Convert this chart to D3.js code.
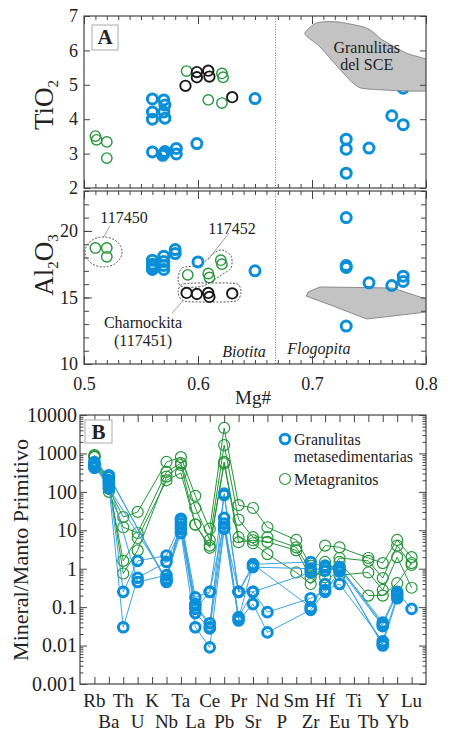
<!DOCTYPE html>
<html>
<head>
<meta charset="utf-8">
<script src="https://cdn.jsdelivr.net/npm/d3@7"></script>
<style>
  body { margin: 0; background: #fff; }
  text { font-family: "Liberation Serif", "Times New Roman", Times, serif; fill: #222; }
</style>
</head>
<body>
<div id="chart"></div>
<script>
// ---- panel A: Mg# vs TiO2 / Al2O3 ----
const tiGranulitas = [[0.56,4.59],[0.56,4.21],[0.56,4.0],[0.57,4.56],[0.571,4.41],[0.57,4.21],[0.571,4.03],
  [0.56,3.05],[0.57,3.0],[0.569,2.95],[0.571,3.06],[0.581,3.15],[0.581,2.99],[0.599,3.29],[0.65,4.6],
  [0.73,3.42],[0.73,3.13],[0.73,2.43],[0.75,3.16],[0.77,4.1],[0.78,3.84],[0.78,4.9]];
const tiMetagranitos = [[0.51,3.51],[0.511,3.4],[0.52,3.34],[0.52,2.87],[0.59,5.40],[0.609,4.56],
  [0.621,4.47],[0.621,5.33],[0.622,5.22]];
const tiCharnockita = [[0.589,4.97],[0.599,5.22],[0.599,5.37],[0.609,5.41],[0.61,5.24],[0.63,4.64]];

const alGranulitas = [[0.56,17.8],[0.56,17.5],[0.56,17.3],[0.56,17.1],[0.57,18.1],[0.57,17.7],[0.57,17.4],
  [0.57,17.1],[0.58,18.6],[0.58,18.3],[0.60,17.67],[0.65,17.0],[0.73,21.0],[0.73,17.4],[0.73,17.25],
  [0.75,16.1],[0.77,15.9],[0.78,16.6],[0.78,16.2],[0.73,12.85]];
const alMetagranitos = [[0.51,18.72],[0.52,18.72],[0.52,18.05],[0.591,16.7],[0.609,16.8],[0.61,16.5],
  [0.62,17.8],[0.621,17.5]];
const alCharnockita = [[0.59,15.34],[0.599,15.26],[0.609,15.34],[0.61,15.04],[0.63,15.3]];

// fields (Mg#, value)
const sceField = [[0.694,6.53],[0.704,6.80],[0.722,6.83],[0.748,6.65],[0.762,6.30],[0.783,5.92],[0.81,5.6],
  [0.81,4.85],[0.748,4.88],[0.736,5.05],[0.725,5.43],[0.707,6.10],[0.696,6.39]];
const flogField = [[0.6965,15.41],[0.707,15.79],[0.771,15.71],[0.81,14.6],[0.81,14.0],[0.748,13.38],
  [0.716,14.44],[0.695,15.1]];
const encl117452 = [[0.5825,16.32],[0.586,17.22],[0.6018,17.44],[0.6132,18.27],[0.621,18.57],[0.629,18.12],
  [0.629,17.22],[0.6193,16.62],[0.6044,15.86],[0.5868,15.79]];
const enclCharn = [[0.5825,15.41],[0.5877,16.02],[0.615,16.09],[0.6342,16.02],[0.6377,15.41],[0.6333,14.74],
  [0.6105,14.66],[0.5877,14.74]];
const biotitaLimit = 0.668;

// ---- panel B: spider diagram ----
const elements = ["Rb","Ba","Th","U","K","Nb","Ta","La","Ce","Pb","Pr","Sr","Nd","P","Sm","Zr","Hf","Eu","Ti","Tb","Y","Yb","Lu"];
const granulitas = [
  [550,250,null,null,null,0.5,20,0.18,0.25,83,0.25,1.3,null,null,null,1.5,1.1,1.1,null,null,0.04,0.25,0.09],
  [450,200,0.25,1.6,null,2.2,15,0.11,0.038,21,0.055,0.25,0.074,null,null,0.17,0.28,0.4,null,null,0.013,0.2,null],
  [500,150,0.03,0.58,null,1.5,11,0.07,0.028,11.5,0.045,0.12,0.022,null,null,0.085,0.25,0.85,null,null,0.011,0.17,null],
  [420,180,null,0.45,null,0.68,8.5,0.03,0.009,11,0.25,1.1,null,null,null,1.0,0.9,1.0,null,null,0.032,null,null],
  [600,270,null,null,null,0.45,18,0.12,0.03,90,0.25,0.25,null,null,null,0.8,1.2,0.9,null,null,0.01,null,null],
  [480,125,null,null,null,0.55,12,0.09,0.25,15,0.05,1.3,null,null,null,0.1,0.4,1.1,null,null,0.035,0.22,null]
];
const metagranitos = [
  [850,120,22,30,null,600,800,79,11,4600,45,38,12,null,5.6,1.2,4,3.6,null,1.9,1.4,5.6,2],
  [800,100,12,8.5,null,330,560,38,5.6,1650,19,6.6,6.6,null,3.6,0.9,0.6,1.9,null,1.6,0.57,4,1.25],
  [900,150,1.6,6.3,null,200,310,14,4,600,6.6,4.6,2.4,null,0.8,0.4,1.5,0.68,null,0.8,0.28,2,0.32],
  [820,200,0.75,3,null,250,500,14,3.5,550,4.9,5.5,5,null,3,0.6,0.9,1.5,null,0.2,0.2,0.42,1.4]
];

const BLUE = "#0a8fd8", BLUE_L = "#3aa3e0", GREEN = "#25963a", BLACK = "#1a1a1a", AX = "#444";
const FONT = "Liberation Serif, Times New Roman, serif";

const svg = d3.select("#chart").append("svg").attr("width", 451).attr("height", 733);
const defs = svg.append("defs");

const mgX = d3.scaleLinear().domain([0.5, 0.8]).range([84, 426]);
const tiY = d3.scaleLinear().domain([2, 7]).range([188, 16]);
const alY = d3.scaleLinear().domain([10, 23]).range([364, 191]);

const mgMinor = d3.range(0, 31).map(i => 0.5 + i / 100);
const mgMajor = [0.5, 0.6, 0.7, 0.8];

function ax(gen, tr, values, len, fmt, pad) {
  const a = svg.append("g").attr("transform", tr)
    .call(gen.tickValues(values).tickSize(-len).tickFormat(fmt || (() => "")).tickPadding(pad || 0));
  a.select(".domain").remove();
  a.selectAll("line").attr("stroke", AX);
  a.attr("font-family", FONT).attr("font-size", 18);
  a.selectAll("text").style("fill", "#222");
  return a;
}
function border(x, y) {
  svg.append("rect").attr("x", x.range()[0]).attr("y", y.range()[1])
    .attr("width", x.range()[1] - x.range()[0]).attr("height", y.range()[0] - y.range()[1])
    .attr("fill", "none").attr("stroke", AX).attr("stroke-width", 1.2);
}
function clip(id, x, y) {
  defs.append("clipPath").attr("id", id).append("rect")
    .attr("x", x.range()[0]).attr("y", y.range()[1])
    .attr("width", x.range()[1] - x.range()[0]).attr("height", y.range()[0] - y.range()[1]);
}

function mgPanel(y, showLabels, id) {
  clip(id, mgX, y);
  const g = svg.append("g").attr("clip-path", `url(#${id})`);
  ax(d3.axisTop(mgX), `translate(0,${y.range()[1]})`, mgMinor, 4);
  ax(d3.axisTop(mgX), `translate(0,${y.range()[1]})`, mgMajor, 8);
  ax(d3.axisBottom(mgX), `translate(0,${y.range()[0]})`, mgMinor, 4);
  ax(d3.axisBottom(mgX), `translate(0,${y.range()[0]})`, mgMajor, 8, showLabels ? d3.format(".1f") : null, 13);
  g.append("line").attr("x1", mgX(biotitaLimit)).attr("x2", mgX(biotitaLimit))
    .attr("y1", y.range()[1]).attr("y2", y.range()[0])
    .attr("stroke", "#777").attr("stroke-dasharray", "1,1.6");
  return g;
}
function pts(g, data, y, color, r, sw) {
  g.append("g").selectAll("circle").data(data).join("circle")
    .attr("cx", d => mgX(d[0])).attr("cy", d => y(d[1])).attr("r", r)
    .attr("fill", "none").attr("stroke", color).attr("stroke-width", sw);
}

// --- TiO2 panel
const gA = mgPanel(tiY, false, "clipA");
ax(d3.axisLeft(tiY), "translate(84,0)", d3.range(2, 8), 6, d3.format("d"), 6);
ax(d3.axisRight(tiY), "translate(426,0)", d3.range(2, 8), 6);
pts(gA, tiGranulitas, tiY, BLUE, 5, 3);
gA.append("path").datum(sceField)
  .attr("d", d3.line().x(d => mgX(d[0])).y(d => tiY(d[1])).curve(d3.curveCardinalClosed.tension(0.3)))
  .attr("fill", "#c3c3c3").attr("stroke", "#777").attr("stroke-width", 0.8);
pts(gA, tiMetagranitos, tiY, GREEN, 5.2, 1.4);
pts(gA, tiCharnockita, tiY, BLACK, 5.2, 1.9);
gA.append("text").attr("x", mgX(0.748)).attr("y", tiY(6.1)).attr("dy", "0.35em")
  .attr("text-anchor", "middle").attr("font-size", 16).text("Granulitas");
gA.append("text").attr("x", mgX(0.748)).attr("y", tiY(5.58)).attr("dy", "0.35em")
  .attr("text-anchor", "middle").attr("font-size", 16).text("del SCE");
border(mgX, tiY);
svg.append("rect").attr("x", 92).attr("y", 25).attr("width", 26).attr("height", 25)
  .attr("fill", "#fff").attr("stroke", "#aaa");
svg.append("text").attr("x", 105).attr("y", 44).attr("text-anchor", "middle")
  .attr("font-size", 21).attr("font-weight", "bold").text("A");
svg.append("text").attr("transform", "translate(53,105) rotate(-90)").attr("text-anchor", "middle")
  .attr("font-size", 27).html('TiO<tspan font-size="15" dy="5">2</tspan>');

// --- Al2O3 panel
const gM = mgPanel(alY, true, "clipM");
ax(d3.axisLeft(alY), "translate(84,0)", d3.range(10, 24), 5);
ax(d3.axisLeft(alY), "translate(84,0)", [10, 15, 20], 8, d3.format("d"), 6);
ax(d3.axisRight(alY), "translate(426,0)", d3.range(10, 24), 5);
gM.append("path").datum(flogField)
  .attr("d", d3.line().x(d => mgX(d[0])).y(d => alY(d[1])).curve(d3.curveLinearClosed))
  .attr("fill", "#c3c3c3").attr("stroke", "#777").attr("stroke-width", 0.8);
const enc = d3.line().x(d => mgX(d[0])).y(d => alY(d[1])).curve(d3.curveCardinalClosed.tension(0.2));
[encl117452, enclCharn].forEach(e => gM.append("path").datum(e).attr("d", enc)
  .attr("fill", "none").attr("stroke", "#444").attr("stroke-width", 0.9).attr("stroke-dasharray", "2,1.5"));
gM.append("ellipse").attr("cx", mgX(0.5171)).attr("cy", alY(18.42)).attr("rx", 18.5).attr("ry", 15)
  .attr("fill", "none").attr("stroke", "#444").attr("stroke-width", 0.9).attr("stroke-dasharray", "2,1.5");
const leaders = [[[0.5228,20.38],[0.5167,19.47]], [[0.6272,19.85],[0.6088,17.82]], [[0.5772,13.83],[0.5868,14.74]]];
leaders.forEach(l => gM.append("line").attr("x1", mgX(l[0][0])).attr("y1", alY(l[0][1]))
  .attr("x2", mgX(l[1][0])).attr("y2", alY(l[1][1])).attr("stroke", "#999").attr("stroke-width", 0.9));
pts(gM, alGranulitas, alY, BLUE, 5, 3);
pts(gM, alMetagranitos, alY, GREEN, 5.2, 1.4);
pts(gM, alCharnockita, alY, BLACK, 5.2, 1.9);
const notes = [["117450",0.5351,21.05,false],["117452",0.6298,20.2,false],["Charnockita",0.5518,13.16,false],
  ["(117451)",0.5518,11.8,false],["Biotita",0.6404,10.98,true],["Flogopita",0.706,11.2,true]];
notes.forEach(n => gM.append("text").attr("x", mgX(n[1])).attr("y", alY(n[2])).attr("dy", "0.35em")
  .attr("text-anchor", "middle").attr("font-size", 16).attr("font-style", n[3] ? "italic" : null).text(n[0]));
border(mgX, alY);
svg.append("text").attr("transform", "translate(53,265) rotate(-90)").attr("text-anchor", "middle")
  .attr("font-size", 27).html('Al<tspan font-size="15" dy="5">2</tspan><tspan dy="-5">O</tspan><tspan font-size="15" dy="5">3</tspan>');
svg.append("text").attr("x", 253).attr("y", 404).attr("text-anchor", "middle").attr("font-size", 19).text("Mg#");

// --- panel B
const elX = d3.scalePoint().domain(elements).range([80, 426]).padding(1);
const yB = d3.scaleLog().domain([0.001, 10000]).range([684, 415]);
const decades = d3.range(-3, 5).map(e => Math.pow(10, e));
const minorB = [];
d3.range(-3, 4).forEach(e => d3.range(2, 10).forEach(k => minorB.push(k * Math.pow(10, e))));
const fmtB = d => d < 1 ? String(+d.toPrecision(1)) : String(Math.round(d));
ax(d3.axisLeft(yB), "translate(80,0)", minorB, 3.5);
ax(d3.axisLeft(yB), "translate(80,0)", decades, 7, fmtB, 3).attr("font-size", 20);
ax(d3.axisRight(yB), "translate(426,0)", minorB, 3.5);
ax(d3.axisRight(yB), "translate(426,0)", decades, 7);
ax(d3.axisBottom(elX), "translate(0,684)", elements, 7);
ax(d3.axisTop(elX), "translate(0,415)", elements, 7);

const toPts = r => r.map((v, i) => ({ el: elements[i], v })).filter(d => d.v != null);
const lineB = d3.line().x(d => elX(d.el)).y(d => yB(d.v));
function spider(series, lineColor, color, r, sw) {
  const g = svg.append("g");
  series.forEach(s => g.append("path").datum(toPts(s)).attr("d", lineB)
    .attr("fill", "none").attr("stroke", lineColor).attr("stroke-width", 1));
  series.forEach(s => g.append("g").selectAll("circle").data(toPts(s)).join("circle")
    .attr("cx", d => elX(d.el)).attr("cy", d => yB(d.v)).attr("r", r)
    .attr("fill", "none").attr("stroke", color).attr("stroke-width", sw));
}
spider(metagranitos, GREEN, GREEN, 5.5, 1.2);
spider(granulitas, BLUE_L, BLUE, 4.8, 3);
svg.append("rect").attr("x", 80).attr("y", 415).attr("width", 346).attr("height", 269)
  .attr("fill", "none").attr("stroke", AX).attr("stroke-width", 1.2);

elements.forEach((e, i) => svg.append("text").attr("x", elX(e)).attr("y", i % 2 ? 728 : 707)
  .attr("text-anchor", "middle").attr("font-size", 19).text(e));

svg.append("rect").attr("x", 85).attr("y", 420).attr("width", 27).attr("height", 23)
  .attr("fill", "#fff").attr("stroke", "#aaa");
svg.append("text").attr("x", 98.5).attr("y", 439).attr("text-anchor", "middle")
  .attr("font-size", 21).attr("font-weight", "bold").text("B");

// legend
svg.append("circle").attr("cx", 285).attr("cy", 439).attr("r", 4.8).attr("fill", "none")
  .attr("stroke", BLUE).attr("stroke-width", 3);
svg.append("circle").attr("cx", 285).attr("cy", 479).attr("r", 5.5).attr("fill", "none")
  .attr("stroke", GREEN).attr("stroke-width", 1.2);
[["Granulitas", 445], ["metasedimentarias", 462], ["Metagranitos", 485]].forEach(t =>
  svg.append("text").attr("x", 294).attr("y", t[1]).attr("font-size", 16).text(t[0]));

svg.append("text").attr("transform", "translate(28,550) rotate(-90)").attr("text-anchor", "middle")
  .attr("font-size", 22).text("Mineral/Manto Primitivo");
</script>
</body>
</html>
